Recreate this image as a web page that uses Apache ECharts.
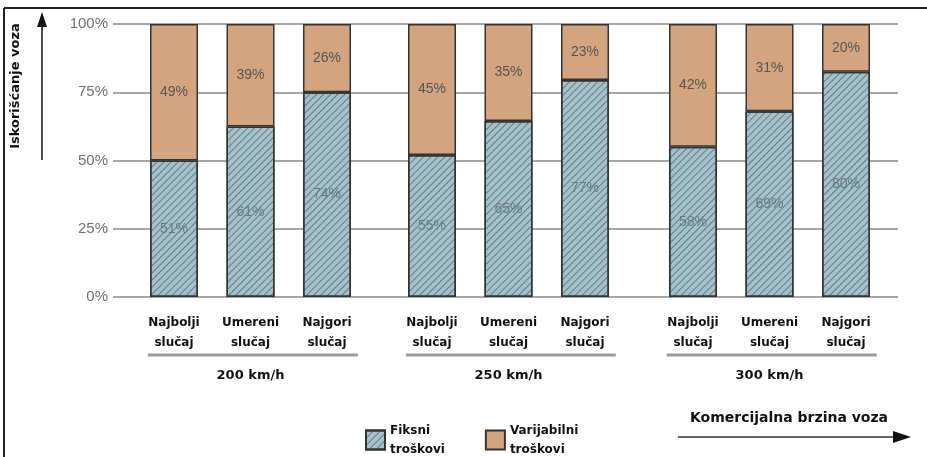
<!DOCTYPE html>
<html>
<head>
<meta charset="utf-8">
<script src="https://cdn.jsdelivr.net/npm/echarts@6/dist/echarts.min.js"></script>
<style>
  html, body { margin: 0; padding: 0; background: #fff; }
  #chart { width: 927px; height: 457px; }
</style>
</head>
<body>
<div id="chart"></div>
<script>
// Categories
const cases = ['Najbolji\nslučaj', 'Umereni\nslučaj', 'Najgori\nslučaj'];
const speeds = ['200 km/h', '250 km/h', '300 km/h'];
const seriesNames = ['Fiksni troškovi', 'Varijabilni troškovi'];
const yTicks = [0, 25, 50, 75, 100];

// Segment heights as drawn (percent of bar)
const fixedShare = [[50, 62.5, 75], [52, 64.5, 79.5], [55, 68, 82.5]];
const variableShare = [[50, 37.5, 25], [48, 35.5, 20.5], [45, 32, 17.5]];

// Printed labels
const fixedLabels = [[51, 61, 74], [55, 65, 77], [58, 69, 80]];
const variableLabels = [[49, 39, 26], [45, 35, 23], [42, 31, 20]];

const chart = echarts.init(document.getElementById('chart'));

const plotTop = 24;
const plotBottom = 160;
const groupLeft = [135.75, 393.75, 654.75];
const groupWidth = 229.5;
const blue = '#a3c2cc';
const orange = '#d3a47d';
const boldFont = 'DejaVu Sans';

// Diagonal hatching of the fixed-cost bars
const hatch = {
  symbol: 'rect',
  symbolSize: 1,
  dashArrayX: [[1, 0]],
  dashArrayY: [1, 4],
  rotation: -Math.PI / 4,
  color: 'rgba(45, 65, 75, 0.55)'
};

const grids = [{ left: 113, right: 29, top: plotTop, bottom: plotBottom }];
const xAxes = [{ gridIndex: 0, type: 'value', min: 0, max: 1, show: false }];
const yAxes = [{
  gridIndex: 0,
  type: 'value',
  min: yTicks[0],
  max: yTicks[yTicks.length - 1],
  interval: 25,
  axisLine: { show: false },
  axisTick: { show: false },
  axisLabel: {
    formatter: '{value}%',
    margin: 5,
    fontFamily: 'Liberation Sans',
    fontSize: 15,
    color: '#707070'
  },
  splitLine: { lineStyle: { color: '#a6a6a6', width: 2 } }
}];
const series = [];
const separators = [];

speeds.forEach((speed, g) => {
  const idx = g + 1;
  grids.push({ left: groupLeft[g], width: groupWidth, top: plotTop, bottom: plotBottom });
  xAxes.push({
    gridIndex: idx,
    type: 'category',
    data: cases,
    axisLine: { show: false },
    axisTick: { show: false },
    axisLabel: {
      margin: 16,
      fontFamily: boldFont,
      fontWeight: 'bold',
      fontSize: 12,
      lineHeight: 20,
      color: '#111'
    },
    name: speed,
    nameLocation: 'middle',
    nameGap: 72,
    nameTextStyle: { fontFamily: boldFont, fontWeight: 'bold', fontSize: 13, color: '#111' }
  });
  yAxes.push({ gridIndex: idx, type: 'value', min: 0, max: 100, show: false });

  const labelStyle = (labels, color) => ({
    show: true,
    position: 'inside',
    fontFamily: 'Liberation Sans',
    fontSize: 14,
    color: color,
    formatter: p => labels[g][p.dataIndex] + '%'
  });

  series.push({
    name: seriesNames[0],
    type: 'bar',
    xAxisIndex: idx,
    yAxisIndex: idx,
    stack: 'total' + g,
    barWidth: 48,
    data: fixedShare[g],
    itemStyle: { color: blue, borderColor: '#333', borderWidth: 1.5, decal: hatch },
    label: labelStyle(fixedLabels, '#6b7b80')
  });
  series.push({
    name: seriesNames[1],
    type: 'bar',
    xAxisIndex: idx,
    yAxisIndex: idx,
    stack: 'total' + g,
    barWidth: 48,
    data: variableShare[g],
    itemStyle: { color: orange, borderColor: '#333', borderWidth: 1.5 },
    label: labelStyle(variableLabels, '#555')
  });

  // gray rule under each speed group
  separators.push({
    type: 'line',
    shape: { x1: groupLeft[g] + 12, y1: 355, x2: groupLeft[g] + 222, y2: 355 },
    style: { stroke: '#9a9a9a', lineWidth: 3 }
  });
});

chart.setOption({
  animation: false,
  grid: grids,
  xAxis: xAxes,
  yAxis: yAxes,
  series: series,
  legend: {
    data: seriesNames,
    left: 360,
    top: 416,
    itemWidth: 19,
    itemHeight: 19,
    itemGap: 40,
    icon: 'rect',
    formatter: name => name.replace(' ', '\n'),
    textStyle: { fontFamily: boldFont, fontWeight: 'bold', fontSize: 12, lineHeight: 19, color: '#111' }
  },
  graphic: [
    // frame
    { type: 'line', shape: { x1: 4, y1: 8, x2: 927, y2: 8 }, style: { stroke: '#222', lineWidth: 2 } },
    { type: 'line', shape: { x1: 4, y1: 8, x2: 4, y2: 457 }, style: { stroke: '#222', lineWidth: 2 } },
    // y axis title with arrow
    {
      type: 'text',
      x: 16,
      y: 86,
      rotation: Math.PI / 2,
      style: {
        text: 'Iskorišćanje voza',
        fontFamily: boldFont,
        fontWeight: 'bold',
        fontSize: 13,
        fill: '#111',
        align: 'center',
        verticalAlign: 'middle'
      }
    },
    { type: 'line', shape: { x1: 42, y1: 160, x2: 42, y2: 22 }, style: { stroke: '#111', lineWidth: 1.5 } },
    { type: 'polygon', shape: { points: [[42, 12], [37, 27], [47, 27]] }, style: { fill: '#111' } },
    // x direction title with arrow
    {
      type: 'text',
      x: 789,
      y: 418,
      style: {
        text: 'Komercijalna brzina voza',
        fontFamily: boldFont,
        fontWeight: 'bold',
        fontSize: 14,
        fill: '#111',
        align: 'center',
        verticalAlign: 'middle'
      }
    },
    { type: 'line', shape: { x1: 678, y1: 437, x2: 896, y2: 437 }, style: { stroke: '#333', lineWidth: 1.5 } },
    { type: 'polygon', shape: { points: [[911, 437], [893, 431], [893, 443]] }, style: { fill: '#111' } }
  ].concat(separators)
});
</script>
</body>
</html>
